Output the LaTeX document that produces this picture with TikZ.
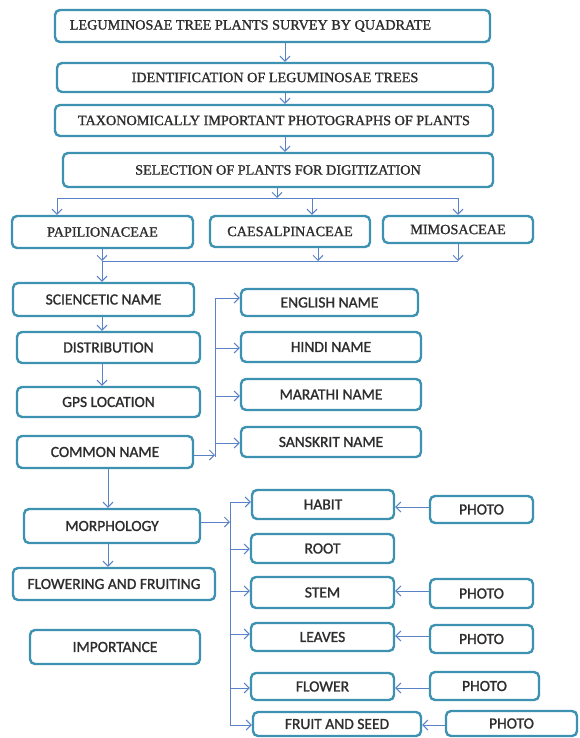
\documentclass[tikz,border=0pt]{standalone}
\usepackage{fontspec}
\setmainfont{Liberation Serif}[FakeBold=1.2]
\newfontfamily\calfont{Carlito}[FakeBold=1.2]
\usetikzlibrary{arrows.meta}
\definecolor{boxc}{RGB}{60,146,176}
\definecolor{arrc}{RGB}{90,130,198}
\definecolor{txtc}{RGB}{45,45,45}
\newcommand\bx[7]{\node[#6, minimum width={(#4-#2)*1pt}, minimum height={(#5-#3)*1pt}] (#1) at ({(#2+#4)/2},{(#3+#5)/2}) {#7};}
\begin{document}
\begin{tikzpicture}[x=1pt,y=-1pt,
 box/.style={draw=boxc, line width=2.4pt, rounded corners=5pt, fill=white, inner sep=0pt, text=txtc},
 serifbox/.style={box, font=\fontsize{14.2}{16}\selectfont},
 sansbox/.style={box, font=\calfont\fontsize{15.5}{17}\selectfont},
 arr/.style={draw=arrc, line width=1pt, -{Straight Barb[length=5pt,width=10pt]}},
 ln/.style={draw=arrc, line width=1pt}]
\useasboundingbox (0,0) rectangle (579,738);
% top chain
\bx{t1}{55}{10}{490}{42}{serifbox}{\hspace*{-44pt}LEGUMINOSAE TREE PLANTS SURVEY BY QUADRATE}
\bx{t2}{57}{63}{493}{92}{serifbox}{IDENTIFICATION OF LEGUMINOSAE TREES}
\bx{t3}{55}{105}{493}{136}{serifbox}{TAXONOMICALLY IMPORTANT PHOTOGRAPHS OF PLANTS}
\bx{t4}{63}{153}{493}{187}{serifbox}{SELECTION OF PLANTS FOR DIGITIZATION}
% families
\bx{p1}{12}{216}{193}{248}{serifbox}{PAPILIONACEAE}
\bx{p2}{210}{216}{370}{247}{serifbox}{CAESALPINACEAE}
\bx{p3}{383}{216}{533}{243}{serifbox}{MIMOSACEAE}
% left column
\bx{s1}{13}{283}{194}{316}{sansbox}{SCIENCETIC NAME}
\bx{s2}{17}{332}{200}{363}{sansbox}{DISTRIBUTION}
\bx{s3}{17}{387}{200}{417}{sansbox}{GPS LOCATION}
\bx{s4}{17}{436}{193}{468}{sansbox}{COMMON NAME}
% names
\bx{n1}{241}{289}{418}{316}{sansbox}{ENGLISH NAME}
\bx{n2}{241}{332}{421}{362}{sansbox}{HINDI NAME}
\bx{n3}{241}{379}{421}{410}{sansbox}{MARATHI NAME}
\bx{n4}{241}{427}{421}{457}{sansbox}{SANSKRIT NAME}
% morphology column
\bx{m1}{24}{509}{200}{543}{sansbox}{MORPHOLOGY}
\bx{m2}{13}{568}{215}{600}{sansbox}{FLOWERING AND FRUITING}
\bx{m3}{30}{630}{200}{664}{sansbox}{IMPORTANCE}
% parts
\bx{h1}{252}{490}{394}{519}{sansbox}{HABIT}
\bx{h2}{251}{534}{394}{563}{sansbox}{ROOT}
\bx{h3}{251}{577}{394}{608}{sansbox}{STEM}
\bx{h4}{251}{623}{394}{651}{sansbox}{LEAVES}
\bx{h5}{251}{673}{394}{700}{sansbox}{FLOWER}
\bx{h6}{253}{712}{421}{736}{sansbox}{FRUIT AND SEED}
% photos
\bx{f1}{430}{496}{533}{523}{sansbox}{PHOTO}
\bx{f3}{430}{579}{533}{608}{sansbox}{PHOTO}
\bx{f4}{430}{625}{533}{653}{sansbox}{PHOTO}
\bx{f5}{430}{672}{539}{700}{sansbox}{PHOTO}
\bx{f6}{446}{711}{577}{736}{sansbox}{PHOTO}
% connectors: top chain
\coordinate (cx) at (285,0);
\draw[arr] (t1.south -| cx) -- (t2.north -| cx);
\draw[arr] (t2.south -| cx) -- (t3.north -| cx);
\draw[arr] (t3.south -| cx) -- (t4.north -| cx);
\coordinate (sp) at (277,198);
\coordinate (spL) at (57,198);
\coordinate (spM) at (312,198);
\coordinate (spR) at (458,198);
\draw[arr] (t4.south -| sp) -- (sp);
\draw[ln] (spL) -- (spR);
\draw[arr] (spL) -- (p1.north -| spL);
\draw[arr] (spM) -- (p2.north -| spM);
\draw[arr] (spR) -- (p3.north -| spR);
% merge
\coordinate (jL) at (102,261);
\coordinate (jM) at (318,261);
\coordinate (jR) at (458,261);
\draw[arr] (p1.south -| jL) -- (jL);
\draw[arr] (p2.south -| jM) -- (jM);
\draw[arr] (p3.south -| jR) -- (jR);
\draw[ln] (jL) -- (jR);
\draw[arr] (jL) -- (s1.north -| jL);
\draw[arr] (s1.south -| jL) -- (s2.north -| jL);
\draw[arr] (s2.south -| jL) -- (s3.north -| jL);
\coordinate (cm) at (108,0);
\draw[arr] (s4.south -| cm) -- (m1.north -| cm);
\draw[arr] (m1.south -| cm) -- (m2.north -| cm);
% names bus
\coordinate (nbT) at (215,298);
\coordinate (nbB) at (215,457);
\draw[ln] (nbT) -- (nbB);
\draw[arr] (s4.east |- 0,455) -- (nbT |- 0,455);
\draw[arr] (nbT) -- (n1.west |- nbT);
\draw[arr] (nbT |- 0,348) -- (n2.west |- 0,348);
\draw[arr] (nbT |- 0,396) -- (n3.west |- 0,396);
\draw[arr] (nbT |- 0,443) -- (n4.west |- 0,443);
% parts bus
\coordinate (pbT) at (230,502);
\coordinate (pbB) at (230,725);
\draw[ln] (pbT) -- (pbB);
\draw[arr] (m1.east |- 0,522) -- (pbT |- 0,522);
\draw[arr] (pbT) -- (h1.west |- pbT);
\draw[arr] (pbT |- 0,549) -- (h2.west |- 0,549);
\draw[arr] (pbT |- 0,591) -- (h3.west |- 0,591);
\draw[arr] (pbT |- 0,634) -- (h4.west |- 0,634);
\draw[arr] (pbT |- 0,688) -- (h5.west |- 0,688);
\draw[arr] (pbB) -- (h6.west |- pbB);
% photo arrows
\draw[arr] (f1.west |- 0,507) -- (h1.east |- 0,507);
\draw[arr] (f3.west |- 0,591) -- (h3.east |- 0,591);
\draw[arr] (f4.west |- 0,636) -- (h4.east |- 0,636);
\draw[arr] (f5.west |- 0,688) -- (h5.east |- 0,688);
\draw[arr] (f6.west |- 0,725) -- (h6.east |- 0,725);
\end{tikzpicture}
\end{document}
